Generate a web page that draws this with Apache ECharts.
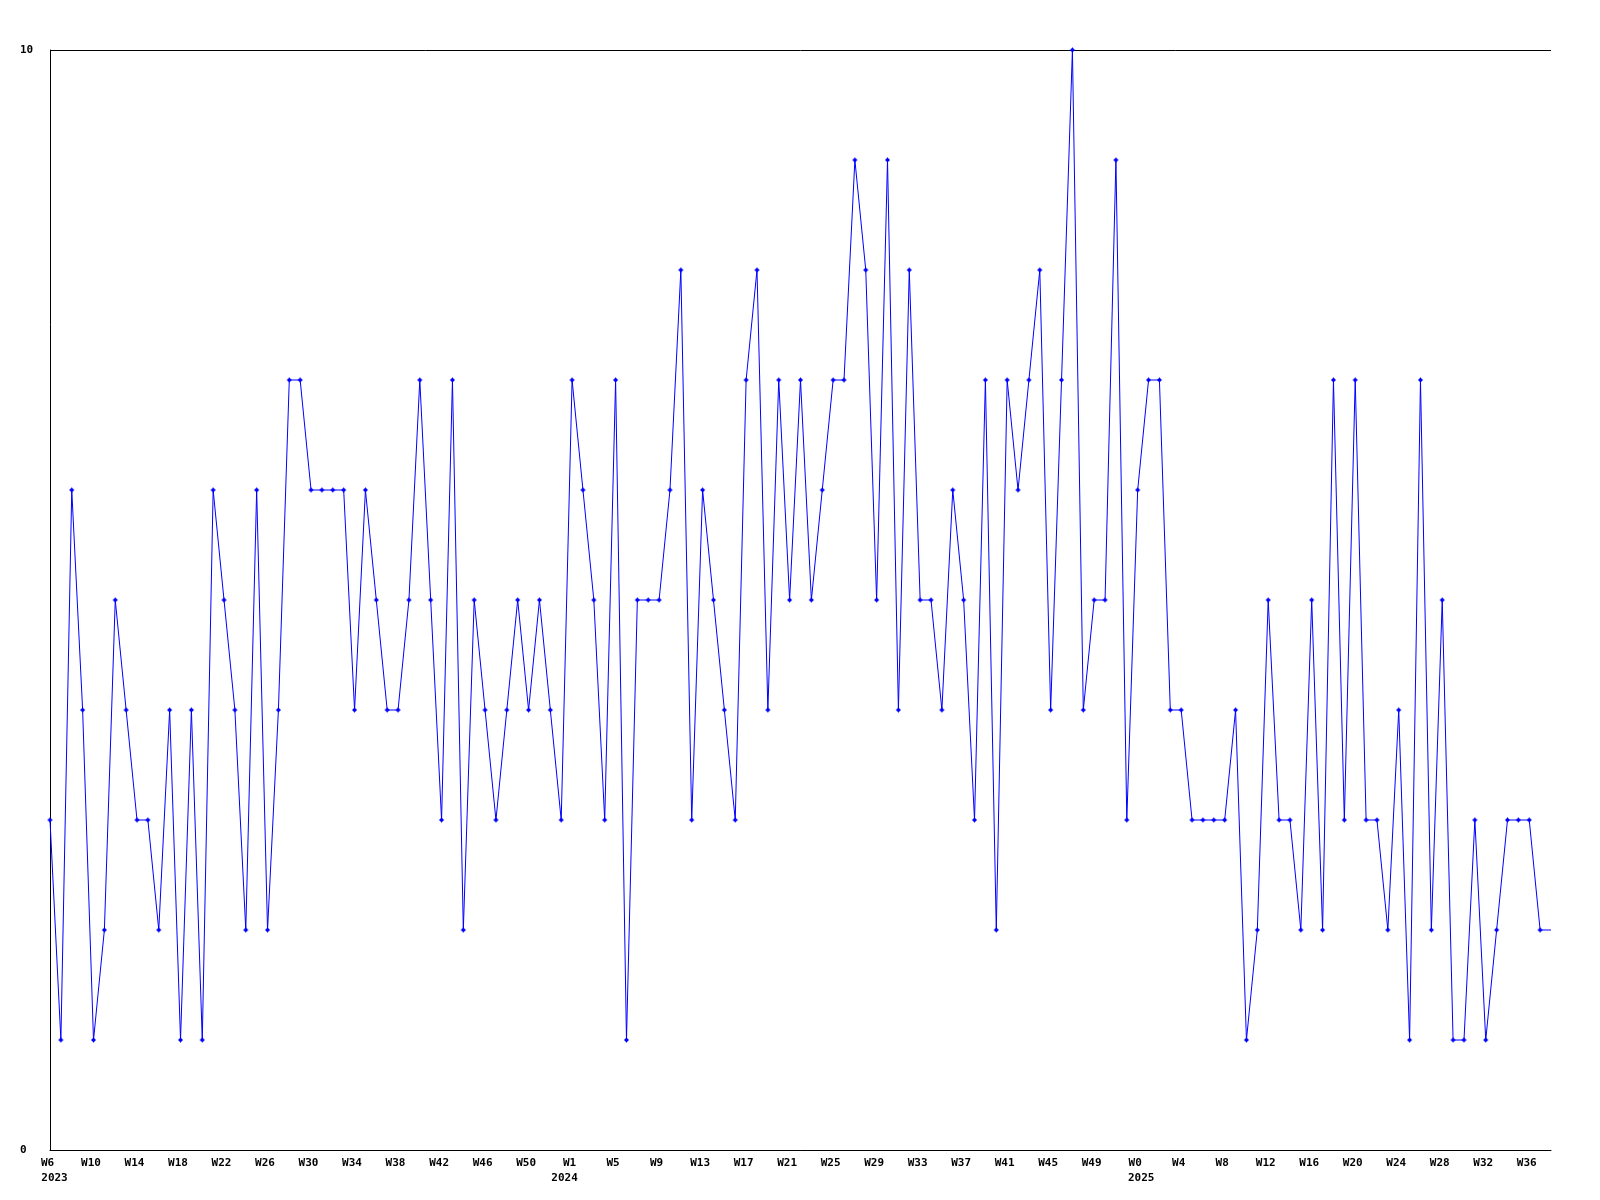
<!DOCTYPE html>
<html>
<head>
<meta charset="utf-8">
<script src="https://cdn.jsdelivr.net/npm/echarts@6/dist/echarts.min.js"></script>
<style>
html,body{margin:0;padding:0;background:#fff;}
#chart{width:1600px;height:1200px;}
</style>
</head>
<body>
<div id="chart"></div>
<script>
const weeks = [
  'W6','W7','W8','W9','W10','W11','W12','W13','W14','W15','W16','W17','W18','W19','W20','W21','W22','W23','W24','W25','W26','W27','W28','W29','W30','W31','W32','W33','W34','W35','W36','W37','W38','W39','W40','W41','W42','W43','W44','W45','W46','W47','W48','W49','W50','W51','W52',
  'W0','W1','W2','W3','W4','W5','W6','W7','W8','W9','W10','W11','W12','W13','W14','W15','W16','W17','W18','W19','W20','W21','W22','W23','W24','W25','W26','W27','W28','W29','W30','W31','W32','W33','W34','W35','W36','W37','W38','W39','W40','W41','W42','W43','W44','W45','W46','W47','W48','W49','W50','W51','W52',
  'W0','W1','W2','W3','W4','W5','W6','W7','W8','W9','W10','W11','W12','W13','W14','W15','W16','W17','W18','W19','W20','W21','W22','W23','W24','W25','W26','W27','W28','W29','W30','W31','W32','W33','W34','W35','W36','W37','W38'
];
const yearTickIndex = [0, 48, 100];
const yearLabels = ['2023', '2024', '2025'];
const values = [
  3,1,6,4,1,2,5,4,3,3,
  2,4,1,4,1,6,5,4,2,6,
  2,4,7,7,6,6,6,6,4,6,
  5,4,4,5,7,5,3,7,2,5,
  4,3,4,5,4,5,4,3,7,6,
  5,3,7,1,5,5,5,6,8,3,
  6,5,4,3,7,8,4,7,5,7,
  5,6,7,7,9,8,5,9,4,8,
  5,5,4,6,5,3,7,2,7,6,
  7,8,4,7,10,4,5,5,9,3,
  6,7,7,4,4,3,3,3,3,4,
  1,2,5,3,3,2,5,2,7,3,
  7,3,3,2,4,1,7,2,5,1,
  1,3,1,2,3,3,3,2,2
];
const yTicks = [0, 10];

const FONT = 'DejaVu Sans Mono';
const chart = echarts.init(document.getElementById('chart'), null, {renderer: 'canvas'});
const lastIdx = values.length - 1;
const seriesData = values.map((v, i) => i === lastIdx ? {value: v, symbol: 'none'} : v);

const baseText = {color: '#000', fontFamily: FONT, fontWeight: 'bold', fontSize: 11, lineHeight: 15};
const yearStyles = [
  Object.assign({}, baseText, {padding: [0, 0, 0, 14]}),
  Object.assign({}, baseText, {padding: [0, 10, 0, 0]}),
  Object.assign({}, baseText, {padding: [0, 0, 0, 12]})
];

chart.setOption({
  animation: false,
  backgroundColor: '#ffffff',
  grid: {left: 50, right: 49, top: 50, bottom: 50, containLabel: false},
  xAxis: {
    type: 'category',
    data: weeks,
    boundaryGap: false,
    axisLine: {show: true, lineStyle: {color: '#000', width: 1}},
    axisTick: {show: false},
    splitLine: {show: false},
    axisLabel: Object.assign({}, baseText, {
      interval: 3,
      margin: 6,
      padding: [0, 5, 0, 0],
      rich: {w: baseText, y0: yearStyles[0], y1: yearStyles[1], y2: yearStyles[2]},
      formatter: function (val, idx) {
        const k = yearTickIndex.indexOf(idx);
        return k >= 0 ? '{w|' + val + '}\n{y' + k + '|' + yearLabels[k] + '}' : '{w|' + val + '}';
      }
    })
  },
  yAxis: {
    type: 'value',
    min: yTicks[0],
    max: yTicks[1],
    interval: yTicks[1] - yTicks[0],
    axisLine: {show: true, lineStyle: {color: '#000', width: 1}},
    axisTick: {show: false},
    splitLine: {show: true, lineStyle: {color: '#000', width: 1}},
    axisLabel: {
      align: 'left',
      margin: 30,
      color: '#000',
      fontFamily: FONT,
      fontWeight: 'bold',
      fontSize: 11
    }
  },
  series: [{
    type: 'line',
    data: seriesData,
    symbol: 'path://M2,0H3V1H4V2H5V3H4V4H3V5H2V4H1V3H0V2H1V1H2Z',
    symbolSize: 5,
    showSymbol: true,
    showAllSymbol: true,
    lineStyle: {color: '#0000ff', width: 1},
    itemStyle: {color: '#0000ff'},
    clip: false
  }]
});
</script>
</body>
</html>
